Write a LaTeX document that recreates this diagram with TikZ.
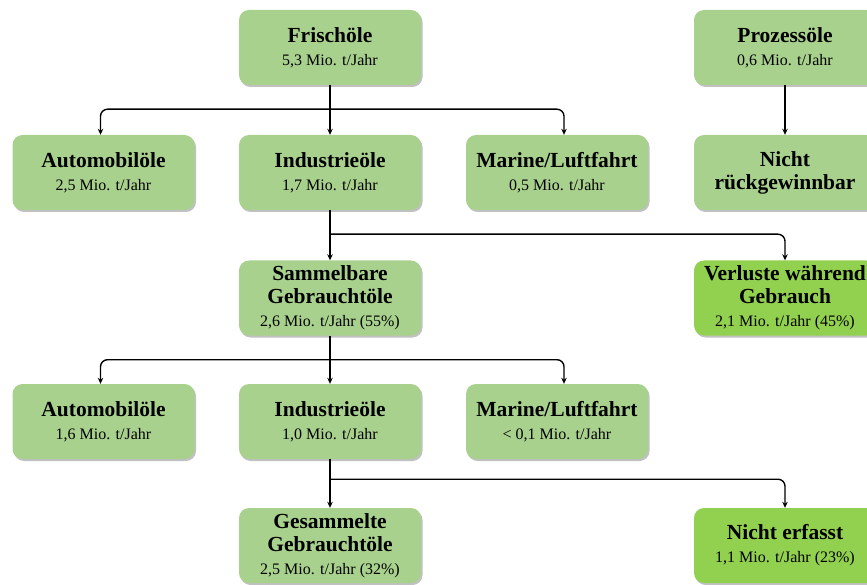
\documentclass[tikz,border=0pt]{standalone}
\usepackage{fontspec}
\setmainfont{Liberation Serif}
\usetikzlibrary{positioning,shadows,arrows.meta}

\definecolor{boxgreen}{HTML}{A9D18E}
\definecolor{lossgreen}{HTML}{92D050}

\newcommand{\ttl}[1]{{\fontsize{21.5}{23}\selectfont\bfseries #1}}
\newcommand{\amt}[1]{{\fontsize{16}{23}\selectfont #1}}

\begin{document}
\begin{tikzpicture}[x=1pt,y=-1pt,
    box/.style={fill=boxgreen, rounded corners=10pt,
      minimum width=182pt, minimum height=75pt, align=center, inner sep=2pt,
      font=\fontsize{16}{23}\selectfont,
      drop shadow={shadow xshift=1.5pt, shadow yshift=-2pt, opacity=0.35, fill=black!70}},
    lossbox/.style={box, fill=lossgreen},
    flow/.style={line width=1.4pt, rounded corners=7pt,
      -{Stealth[length=6pt,width=5.5pt]}}]

  % --- page frame (clips the boxes at the right and bottom edge) ---
  \clip (0,0) rectangle (867,585);

  % --- column positions and branch depth ---
  \def\xa{103.5}  % Automobiloele
  \def\xb{330}    % main column
  \def\xc{557}    % Marine/Luftfahrt
  \def\xd{785}    % losses
  \def\br{24}     % depth of the branch line below a box

  % --- row 1 ---
  \node[box] (fri) at (\xb,47.5) {\ttl{Frischöle}\\\amt{5,3 Mio. t/Jahr}};
  \node[box] (pro) at (\xd,47.5) {\ttl{Prozessöle}\\\amt{0,6 Mio. t/Jahr}};

  % --- row 2 ---
  \node[box] (aut) at (\xa,172.5) {\ttl{Automobilöle}\\\amt{2,5 Mio. t/Jahr}};
  \node[box] (ind) at (\xb,172.5) {\ttl{Industrieöle}\\\amt{1,7 Mio. t/Jahr}};
  \node[box] (mar) at (\xc,172.5) {\ttl{Marine/Luftfahrt}\\\amt{0,5 Mio. t/Jahr}};
  \node[box] (nrg) at (\xd,172.5) {\ttl{Nicht}\\\ttl{rückgewinnbar}};

  % --- row 3 ---
  \node[box] (sam) at (\xb,298) {\ttl{Sammelbare}\\\ttl{Gebrauchtöle}\\\amt{2,6 Mio. t/Jahr (55\%)}};
  \node[lossbox] (ver) at (\xd,298) {\ttl{Verluste während}\\\ttl{Gebrauch}\\\amt{2,1 Mio. t/Jahr (45\%)}};

  % --- row 4 ---
  \node[box] (aut2) at (\xa,421.5) {\ttl{Automobilöle}\\\amt{1,6 Mio. t/Jahr}};
  \node[box] (ind2) at (\xb,421.5) {\ttl{Industrieöle}\\\amt{1,0 Mio. t/Jahr}};
  \node[box] (mar2) at (\xc,421.5) {\ttl{Marine/Luftfahrt}\\\amt{< 0,1 Mio. t/Jahr}};

  % --- row 5 ---
  \node[box] (ges) at (\xb,545.5) {\ttl{Gesammelte}\\\ttl{Gebrauchtöle}\\\amt{2,5 Mio. t/Jahr (32\%)}};
  \node[lossbox] (nef) at (\xd,545.5) {\ttl{Nicht erfasst}\\\amt{1,1 Mio. t/Jahr (23\%)}};

  % --- flows ---
  \draw[flow] (fri) -- (ind);
  \draw[flow] (fri.south) ++(0,\br) -| ([xshift=-3pt]aut.north);
  \draw[flow] (fri.south) ++(0,\br) -| ([xshift=7pt]mar.north);
  \draw[flow] (pro) -- (nrg);

  \draw[flow] (ind) -- (sam);
  \draw[flow] (ind.south) ++(0,\br) -| (ver.north);

  \draw[flow] (sam) -- (ind2);
  \draw[flow] (sam.south) ++(0,\br) -| ([xshift=-3pt]aut2.north);
  \draw[flow] (sam.south) ++(0,\br) -| ([xshift=7pt]mar2.north);

  \draw[flow] (ind2) -- (ges);
  \draw[flow] (ind2.south) ++(0,20) -| (nef.north);
\end{tikzpicture}
\end{document}
